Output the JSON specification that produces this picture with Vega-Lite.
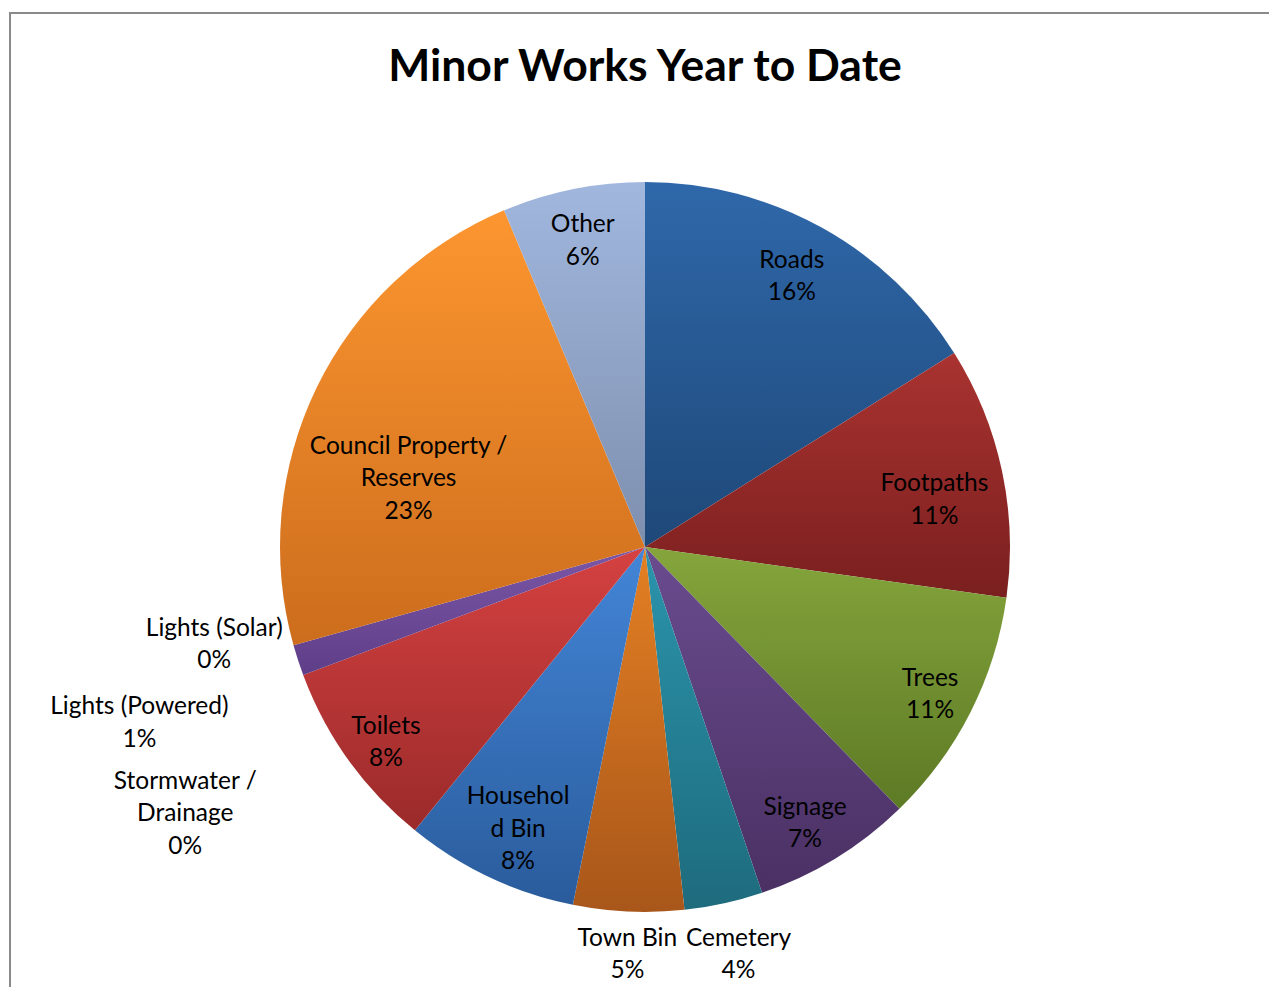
{
  "$schema": "https://vega.github.io/schema/vega-lite/v6.json",
  "autosize": {"type": "none"},
  "padding": {"left": 10, "top": 13, "right": -11, "bottom": -94},
  "width": 1270,
  "height": 1068,
  "background": "white",
  "view": {"stroke": "#8a8a8a", "strokeWidth": 2, "fill": "white"},
  "title": {
    "text": "Minor Works Year to Date",
    "font": "Lato",
    "fontWeight": "bold",
    "fontSize": 44.5,
    "color": "#000000",
    "anchor": "middle",
    "baseline": "alphabetic",
    "offset": -122
  },
  "data": {
    "values": [
      {"n": 1, "cat": "Roads", "v": 16.08, "label": "Roads\n16%"},
      {"n": 2, "cat": "Footpaths", "v": 11.14, "label": "Footpaths\n11%"},
      {"n": 3, "cat": "Trees", "v": 10.5, "label": "Trees\n11%"},
      {"n": 4, "cat": "Signage", "v": 7.08, "label": "Signage\n7%"},
      {"n": 5, "cat": "Cemetery", "v": 3.47, "label": "Cemetery\n4%"},
      {"n": 6, "cat": "Town Bin", "v": 4.89, "label": "Town Bin\n5%"},
      {"n": 7, "cat": "Household Bin", "v": 7.69, "label": "Househol\nd Bin\n8%"},
      {"n": 8, "cat": "Toilets", "v": 8.44, "label": "Toilets\n8%"},
      {"n": 9, "cat": "Stormwater / Drainage", "v": 0, "label": "Stormwater /\nDrainage\n0%"},
      {"n": 10, "cat": "Lights (Powered)", "v": 1.36, "label": "Lights (Powered)\n1%"},
      {"n": 11, "cat": "Lights (Solar)", "v": 0, "label": "Lights (Solar)\n0%"},
      {"n": 12, "cat": "Council Property / Reserves", "v": 23.03, "label": "Council Property /\nReserves\n23%"},
      {"n": 13, "cat": "Other", "v": 6.31, "label": "Other\n6%"}
    ]
  },
  "encoding": {
    "theta": {"field": "v", "type": "quantitative", "stack": true},
    "order": {"field": "n", "type": "quantitative"}
  },
  "layer": [
    {
      "mark": {"type": "arc", "radius": 365, "stroke": null},
      "encoding": {
        "fill": {
          "condition": [
            {"test": "datum.n == 1", "value": {"gradient": "linear", "x1": 0, "y1": 0, "x2": 0, "y2": 1, "stops": [{"offset": 0, "color": "#2f68aa"}, {"offset": 1, "color": "#1e4878"}]}},
            {"test": "datum.n == 2", "value": {"gradient": "linear", "x1": 0, "y1": 0, "x2": 0, "y2": 1, "stops": [{"offset": 0, "color": "#a93330"}, {"offset": 1, "color": "#7a1f1f"}]}},
            {"test": "datum.n == 3", "value": {"gradient": "linear", "x1": 0, "y1": 0, "x2": 0, "y2": 1, "stops": [{"offset": 0, "color": "#85a53c"}, {"offset": 1, "color": "#5d7a25"}]}},
            {"test": "datum.n == 4", "value": {"gradient": "linear", "x1": 0, "y1": 0, "x2": 0, "y2": 1, "stops": [{"offset": 0, "color": "#6a4c8f"}, {"offset": 1, "color": "#4a3063"}]}},
            {"test": "datum.n == 5", "value": {"gradient": "linear", "x1": 0, "y1": 0, "x2": 0, "y2": 1, "stops": [{"offset": 0, "color": "#2b94ac"}, {"offset": 1, "color": "#1e6b7d"}]}},
            {"test": "datum.n == 6", "value": {"gradient": "linear", "x1": 0, "y1": 0, "x2": 0, "y2": 1, "stops": [{"offset": 0, "color": "#e48023"}, {"offset": 1, "color": "#a8561a"}]}},
            {"test": "datum.n == 7", "value": {"gradient": "linear", "x1": 0, "y1": 0, "x2": 0, "y2": 1, "stops": [{"offset": 0, "color": "#4385d7"}, {"offset": 1, "color": "#2a5c9c"}]}},
            {"test": "datum.n == 8", "value": {"gradient": "linear", "x1": 0, "y1": 0, "x2": 0, "y2": 1, "stops": [{"offset": 0, "color": "#d54141"}, {"offset": 1, "color": "#9b2a2a"}]}},
            {"test": "datum.n == 10", "value": {"gradient": "linear", "x1": 0, "y1": 0, "x2": 0, "y2": 1, "stops": [{"offset": 0, "color": "#7b57a7"}, {"offset": 1, "color": "#5f3e88"}]}},
            {"test": "datum.n == 12", "value": {"gradient": "linear", "x1": 0, "y1": 0, "x2": 0, "y2": 1, "stops": [{"offset": 0, "color": "#fd9630"}, {"offset": 1, "color": "#cc6d1d"}]}},
            {"test": "datum.n == 13", "value": {"gradient": "linear", "x1": 0, "y1": 0, "x2": 0, "y2": 1, "stops": [{"offset": 0, "color": "#a1b7de"}, {"offset": 1, "color": "#7e8fae"}]}}
          ],
          "value": "#888888"
        }
      }
    },
    {
      "mark": {"type": "text", "radius": 326, "dx": -11, "dy": -1, "font": "Lato", "fontSize": 24.5, "lineHeight": 32.5, "lineBreak": "\n", "align": "center", "baseline": "middle", "color": "#000000"},
      "encoding": {"text": {"field": "label", "type": "nominal", "condition": {"test": "datum.n != 1", "value": ""}}}
    },
    {
      "mark": {"type": "text", "radius": 301, "dx": -5, "font": "Lato", "fontSize": 24.5, "lineHeight": 32.5, "lineBreak": "\n", "align": "center", "baseline": "middle", "color": "#000000"},
      "encoding": {"text": {"field": "label", "type": "nominal", "condition": {"test": "datum.n != 2", "value": ""}}}
    },
    {
      "mark": {"type": "text", "radius": 313, "dx": 6, "dy": -10, "font": "Lato", "fontSize": 24.5, "lineHeight": 32.5, "lineBreak": "\n", "align": "center", "baseline": "middle", "color": "#000000"},
      "encoding": {"text": {"field": "label", "type": "nominal", "condition": {"test": "datum.n != 3", "value": ""}}}
    },
    {
      "mark": {"type": "text", "radius": 301, "dx": 3, "dy": 4, "font": "Lato", "fontSize": 24.5, "lineHeight": 32.5, "lineBreak": "\n", "align": "center", "baseline": "middle", "color": "#000000"},
      "encoding": {"text": {"field": "label", "type": "nominal", "condition": {"test": "datum.n != 4", "value": ""}}}
    },
    {
      "mark": {"type": "text", "radius": 401, "dx": 7, "font": "Lato", "fontSize": 24.5, "lineHeight": 32.5, "lineBreak": "\n", "align": "center", "baseline": "middle", "color": "#000000"},
      "encoding": {"text": {"field": "label", "type": "nominal", "condition": {"test": "datum.n != 5", "value": ""}}}
    },
    {
      "mark": {"type": "text", "radius": 390, "dy": 2, "font": "Lato", "fontSize": 24.5, "lineHeight": 32.5, "lineBreak": "\n", "align": "center", "baseline": "middle", "color": "#000000"},
      "encoding": {"text": {"field": "label", "type": "nominal", "condition": {"test": "datum.n != 6", "value": ""}}}
    },
    {
      "mark": {"type": "text", "radius": 279, "dx": -8, "dy": -2, "font": "Lato", "fontSize": 24.5, "lineHeight": 32.5, "lineBreak": "\n", "align": "center", "baseline": "middle", "color": "#000000"},
      "encoding": {"text": {"field": "label", "type": "nominal", "condition": {"test": "datum.n != 7", "value": ""}}}
    },
    {
      "mark": {"type": "text", "radius": 313, "dx": -5, "dy": -3, "font": "Lato", "fontSize": 24.5, "lineHeight": 32.5, "lineBreak": "\n", "align": "center", "baseline": "middle", "color": "#000000"},
      "encoding": {"text": {"field": "label", "type": "nominal", "condition": {"test": "datum.n != 8", "value": ""}}}
    },
    {
      "mark": {"type": "text", "radius": 524, "dx": 31, "dy": 51, "font": "Lato", "fontSize": 24.5, "lineHeight": 32.5, "lineBreak": "\n", "align": "center", "baseline": "middle", "color": "#000000"},
      "encoding": {"text": {"field": "label", "type": "nominal", "condition": {"test": "datum.n != 9", "value": ""}}}
    },
    {
      "mark": {"type": "text", "radius": 535, "dx": 3, "dy": -6, "font": "Lato", "fontSize": 24.5, "lineHeight": 32.5, "lineBreak": "\n", "align": "center", "baseline": "middle", "color": "#000000"},
      "encoding": {"text": {"field": "label", "type": "nominal", "condition": {"test": "datum.n != 10", "value": ""}}}
    },
    {
      "mark": {"type": "text", "radius": 440, "dx": -7, "dy": -37, "font": "Lato", "fontSize": 24.5, "lineHeight": 32.5, "lineBreak": "\n", "align": "center", "baseline": "middle", "color": "#000000"},
      "encoding": {"text": {"field": "label", "type": "nominal", "condition": {"test": "datum.n != 11", "value": ""}}}
    },
    {
      "mark": {"type": "text", "radius": 246, "dx": -15, "dy": 7, "font": "Lato", "fontSize": 24.5, "lineHeight": 32.5, "lineBreak": "\n", "align": "center", "baseline": "middle", "color": "#000000"},
      "encoding": {"text": {"field": "label", "type": "nominal", "condition": {"test": "datum.n != 12", "value": ""}}}
    },
    {
      "mark": {"type": "text", "radius": 326, "dx": 2, "dy": -2, "font": "Lato", "fontSize": 24.5, "lineHeight": 32.5, "lineBreak": "\n", "align": "center", "baseline": "middle", "color": "#000000"},
      "encoding": {"text": {"field": "label", "type": "nominal", "condition": {"test": "datum.n != 13", "value": ""}}}
    }
  ]
}
